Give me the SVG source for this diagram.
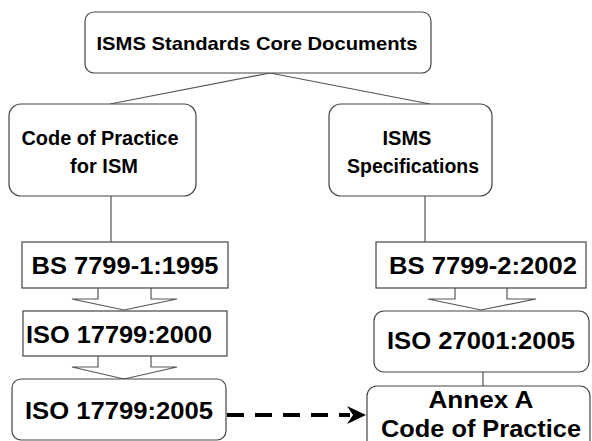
<svg xmlns="http://www.w3.org/2000/svg" width="592" height="441" viewBox="0 0 592 441">
<style>
.box{fill:#fff;stroke:#444;stroke-width:1.2}
.ln{fill:none;stroke:#555;stroke-width:1.2}
.t{font-family:"Liberation Sans",Arial,sans-serif;font-weight:bold;fill:#000;text-anchor:middle}
.s{font-size:19px}
.m{font-size:20px}
.l{font-size:24px}
</style>
<rect width="592" height="441" fill="#fff"/>
<g id="connectors">
<path class="ln" d="M270,73 L110,104 M270,73 L430,104 M111,196 V242 M425,196 V242 M483,372 V386"/>
<path class="ln" d="M98,288 V299 H72 L124,310 L177,299 H151 V288"/>
<path class="ln" d="M98,356 V367 H72 L124,379 L177,367 H151 V356"/>
<path class="ln" d="M455,288 V299 H428 L481,310 L536,299 H507 V288"/>
<path d="M227,415 H350" fill="none" stroke="#000" stroke-width="4" stroke-dasharray="17,11"/>
<polygon points="366,415 347,406 353,415 347,424" fill="#000"/>
</g>
<g id="n-top"><rect class="box" x="85" y="12" width="346" height="61" rx="9"/><text class="t s" x="257" y="50" textLength="321" lengthAdjust="spacingAndGlyphs">ISMS Standards Core Documents</text></g>
<g id="n-cop"><rect class="box" x="9" y="104" width="187" height="92" rx="12"/><text class="t m" x="100" y="145" textLength="157" lengthAdjust="spacingAndGlyphs">Code of Practice</text><text class="t m" x="104" y="173">for ISM</text></g>
<g id="n-spec"><rect class="box" x="329" y="104" width="163" height="92" rx="12"/><text class="t m" x="407" y="145">ISMS</text><text class="t m" x="413" y="173" textLength="132" lengthAdjust="spacingAndGlyphs">Specifications</text></g>
<g id="n-bs1"><rect class="box" x="22" y="242" width="206" height="46"/><text class="t l" x="125" y="274" textLength="187" lengthAdjust="spacingAndGlyphs">BS 7799-1:1995</text></g>
<g id="n-iso2000"><rect class="box" x="23" y="311" width="204" height="45"/><text class="t l" x="119" y="343" textLength="186" lengthAdjust="spacingAndGlyphs">ISO 17799:2000</text></g>
<g id="n-iso2005"><rect class="box" x="12" y="379" width="214" height="61" rx="9"/><text class="t l" x="119" y="419" textLength="188" lengthAdjust="spacingAndGlyphs">ISO 17799:2005</text></g>
<g id="n-bs2"><rect class="box" x="376" y="242" width="210" height="46"/><text class="t l" x="483" y="274" textLength="188" lengthAdjust="spacingAndGlyphs">BS 7799-2:2002</text></g>
<g id="n-iso27001"><rect class="box" x="374" y="311" width="215" height="61" rx="10"/><text class="t l" x="481" y="349" textLength="188" lengthAdjust="spacingAndGlyphs">ISO 27001:2005</text></g>
<g id="n-annex"><rect class="box" x="367" y="386" width="223" height="70" rx="10"/><text class="t l" x="481" y="408" textLength="105" lengthAdjust="spacingAndGlyphs">Annex A</text><text class="t l" x="481" y="437" textLength="200" lengthAdjust="spacingAndGlyphs">Code of Practice</text></g>
</svg>
